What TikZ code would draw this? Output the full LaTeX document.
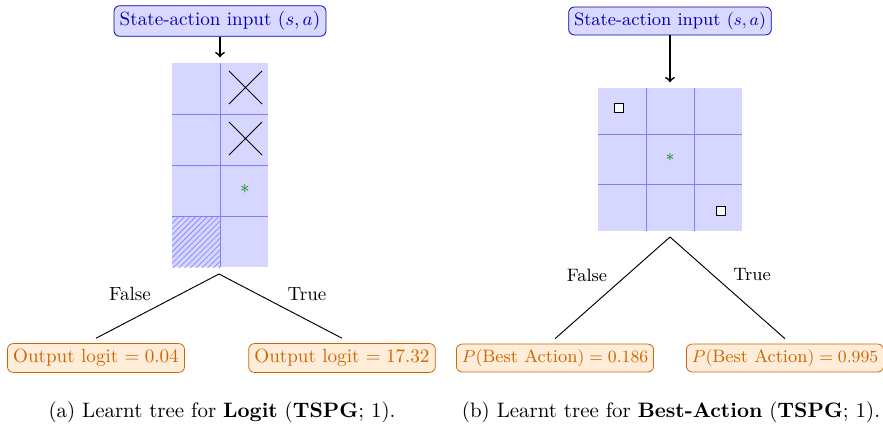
\documentclass[tikz,border=0pt]{standalone}
\usetikzlibrary{patterns}
\begin{document}
\begin{tikzpicture}[x=0.5236pt,y=-0.5236pt,
  inbox/.style={draw=blue!70!black, fill=blue!15, text=blue!70!black,
    rounded corners=3pt, inner sep=3pt},
  leafbox/.style={draw=orange!80!black, fill=orange!15, text=orange!80!black,
    rounded corners=3pt, inner sep=3pt},
  gridfill/.style={fill=blue!16},
  gridline/.style={draw=blue!50, line width=0.5pt},
  feed/.style={->, line width=0.9pt, shorten >=3pt},
  branch/.style={line width=0.5pt},
  cross/.style={line width=0.5pt},
  star/.style={text=green!55!black, inner sep=0pt},
  marker/.style={draw=black, fill=gray!5, minimum size=4.8pt, inner sep=0pt, line width=0.6pt},
  cond/.style={inner sep=1pt},
  captext/.style={font=\fontsize{10.95}{13.6}\selectfont},
  smallpanel/.style={font=\fontsize{9.4}{11.3}\selectfont}
]
\useasboundingbox (0,0) rectangle (883,424);

% ---------- (a) Logit tree ----------
\node[inbox] (inA) at (220,21) {State-action input $(s,a)$};
\fill[gridfill] (172,63) rectangle (268,267);
\fill[pattern=north east lines, pattern color=blue!45] (172,216) rectangle (220,267);
\draw[gridline] (220,63) -- (220,267)
  (172,114) -- (268,114) (172,165) -- (268,165) (172,216) -- (268,216);
\draw[cross] (229,71) -- (262,104) (229,104) -- (262,71);
\draw[cross] (229,122) -- (262,155) (229,155) -- (262,122);
\node[star] (sA) at (245,189) {$\ast$};
\coordinate (gA) at (220,63);
\draw[feed] (inA.south) -- (gA);

\coordinate (apA) at (219,274);
\node[leafbox] (lA0) at (96,358) {Output logit $= 0.04$};
\node[leafbox] (lA1) at (342,358) {Output logit $= 17.32$};
\draw[branch] (apA) -- ([yshift=2.6pt]lA0.north);
\draw[branch] (apA) -- ([yshift=2.6pt]lA1.north);
\node[cond] (fA) at (130,294) {False};
\node[cond] (tA) at (307,294) {True};
\node[captext] (capA) at (222,412) {(a) Learnt tree for \textbf{Logit} (\textbf{TSPG}; 1).};

% ---------- (b) Best-Action tree ----------
\begin{scope}[every node/.append style={smallpanel}]
\node[inbox, inner sep=2.8pt] (inB) at (670,21) {State-action input $(s,a)$};
\fill[gridfill] (598,88) rectangle (742,231);
\draw[gridline] (646,88) -- (646,231) (694,88) -- (694,231)
  (598,134.5) -- (742,134.5) (598,184) -- (742,184);
\node[marker] (mB1) at (619,108) {};
\node[marker] (mB2) at (721,211) {};
\node[star] (sB) at (670,157) {$\ast$};
\coordinate (gB) at (670,88);
\draw[feed] (inB.south) -- (gB);

\coordinate (apB) at (670,237);
\node[leafbox, inner sep=2.8pt] (lB0) at (555,358) {$P(\mbox{Best Action}) = 0.186$};
\node[leafbox, inner sep=2.8pt] (lB1) at (785,358) {$P(\mbox{Best Action}) = 0.995$};
\draw[branch] (apB) -- ([yshift=2.6pt]lB0.north);
\draw[branch] (apB) -- ([yshift=2.6pt]lB1.north);
\node[cond] (fB) at (587,275) {False};
\node[cond] (tB) at (752,275) {True};
\end{scope}
\node[captext] (capB) at (671,412) {(b) Learnt tree for \textbf{Best-Action} (\textbf{TSPG}; 1).};
\end{tikzpicture}
\end{document}
